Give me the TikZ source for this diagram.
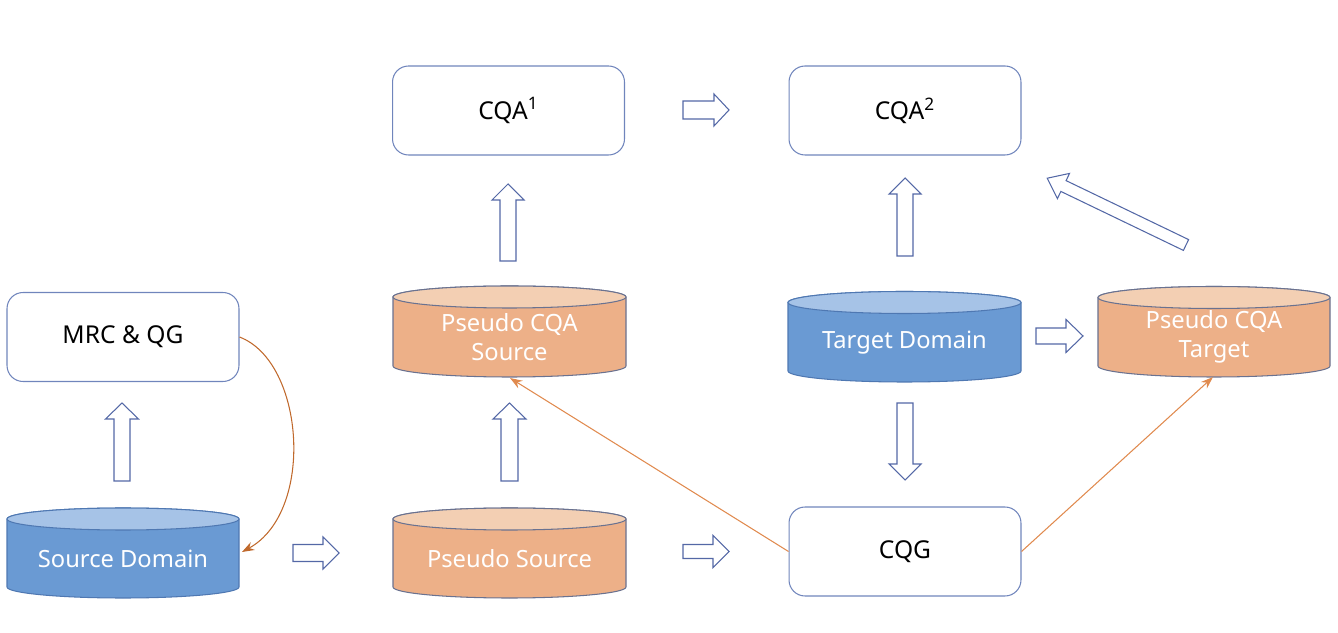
\documentclass[tikz,border=0pt]{standalone}
\usepackage{fontspec}
\setmainfont{Noto Sans}
\usetikzlibrary{arrows.meta}
\definecolor{boxline}{HTML}{7085BC}
\definecolor{arrline}{HTML}{5468A6}
\definecolor{bluebody}{HTML}{6A9AD3}
\definecolor{bluetop}{HTML}{A6C3E7}
\definecolor{blueline}{HTML}{4F78B2}
\definecolor{orgbody}{HTML}{EDB088}
\definecolor{orgtop}{HTML}{F3CFB3}
\definecolor{orgline}{HTML}{6A7290}
\definecolor{orgarrow}{HTML}{E08A4E}
\definecolor{brownarrow}{HTML}{C0692C}
\newcommand\dbcylinder[7]{%
  \pgfmathsetmacro\cylrx{(#2-#1)/2}%
  \pgfmathsetmacro\cylcx{(#2+#1)/2}%
  \draw[draw=#7, fill=#5, line width=0.6pt] (#1,#3) -- (#1,#4)
    arc[start angle=180, end angle=360, x radius=\cylrx, y radius=11] -- (#2,#3)
    arc[start angle=0, end angle=180, x radius=\cylrx, y radius=11] -- cycle;
  \draw[draw=#7, fill=#6, line width=0.6pt] (\cylcx,#3) ellipse[x radius=\cylrx, y radius=11];
}
\begin{document}
\begin{tikzpicture}[x=0.02cm,y=0.02cm,
  box/.style={draw=boxline, line width=0.6pt, rounded corners=0.32cm, minimum width=4.64cm,
    minimum height=1.78cm, inner sep=0pt, font=\fontsize{14}{17}\selectfont, text=black},
  cyltext/.style={text=white, align=center, font=\fontsize{13.5}{16.5}\selectfont, inner sep=0pt},
  barrowline/.style={draw=arrline, fill=white, line width=0.6pt, line join=miter},
  feed/.style={draw=orgarrow, line width=0.6pt, -{Stealth[length=7pt,width=5pt]}},
  pics/barrow/.style n args={4}{code={\draw[barrowline] (0,-#2) -- ({#1-#4},-#2) -- ({#1-#4},-#3)
    -- (#1,0) -- ({#1-#4},#3) -- ({#1-#4},#2) -- (0,#2) -- cycle;}}
]
\useasboundingbox (0,0) rectangle (1338,632);

% boxes
\node[box] (cqa1) at (508.5,521.5) {CQA\textsuperscript{1}};
\node[box] (cqa2) at (905,521.5) {CQA\textsuperscript{2}};
\node[box] (mrc) at (123,295) {MRC \& QG};
\node[box] (cqg) at (905,80.5) {CQG};

% cylinders
\dbcylinder{7}{239}{113}{45}{bluebody}{bluetop}{blueline}
\node[cyltext] (sd) at (123,73) {Source Domain};
\dbcylinder{393}{626}{113}{45}{orgbody}{orgtop}{orgline}
\node[cyltext] (ps) at (509.5,73) {Pseudo Source};
\dbcylinder{393}{626}{335}{266}{orgbody}{orgtop}{orgline}
\node[cyltext] (pcs) at (509.5,294.5) {Pseudo CQA\\Source};
\dbcylinder{788}{1021}{329.5}{261}{bluebody}{bluetop}{blueline}
\node[cyltext] (td) at (904.5,289) {Target Domain};
\dbcylinder{1098}{1330}{334.5}{266}{orgbody}{orgtop}{orgline}
\node[cyltext] (pct) at (1214,295) {Pseudo CQA\\Target};

\coordinate (sd-e) at (242,80);
\coordinate (pcs-s) at (510,254);
\coordinate (pct-s) at (1213,255);

% thin orange connectors
\draw[feed, draw=brownarrow] (mrc.east) .. controls (305,270) and (315,120) .. (sd-e);
\draw[feed] (cqg.west) -- (pcs-s);
\draw[feed] (cqg.east) -- (pct-s);

% block arrows
\pic[rotate=90] at (122,151) {barrow={78}{8}{16.5}{16}};
\pic at (293,79) {barrow={46}{8.5}{16}{16}};
\pic[rotate=90] at (509.5,151) {barrow={78}{8.5}{16.5}{16}};
\pic at (683,80.5) {barrow={46}{7}{16}{16}};
\pic[rotate=90] at (508,371) {barrow={77}{8}{16}{16}};
\pic at (683,522) {barrow={46}{9}{16}{15}};
\pic[rotate=90] at (905,376) {barrow={78}{8}{16}{16}};
\pic[rotate=-90] at (905,229) {barrow={77}{8}{16}{16}};
\pic at (1036,296) {barrow={47}{8}{16.5}{17}};
\pic[rotate=154.3] at (1186,387) {barrow={154}{6}{14}{18}};
\end{tikzpicture}
\end{document}
